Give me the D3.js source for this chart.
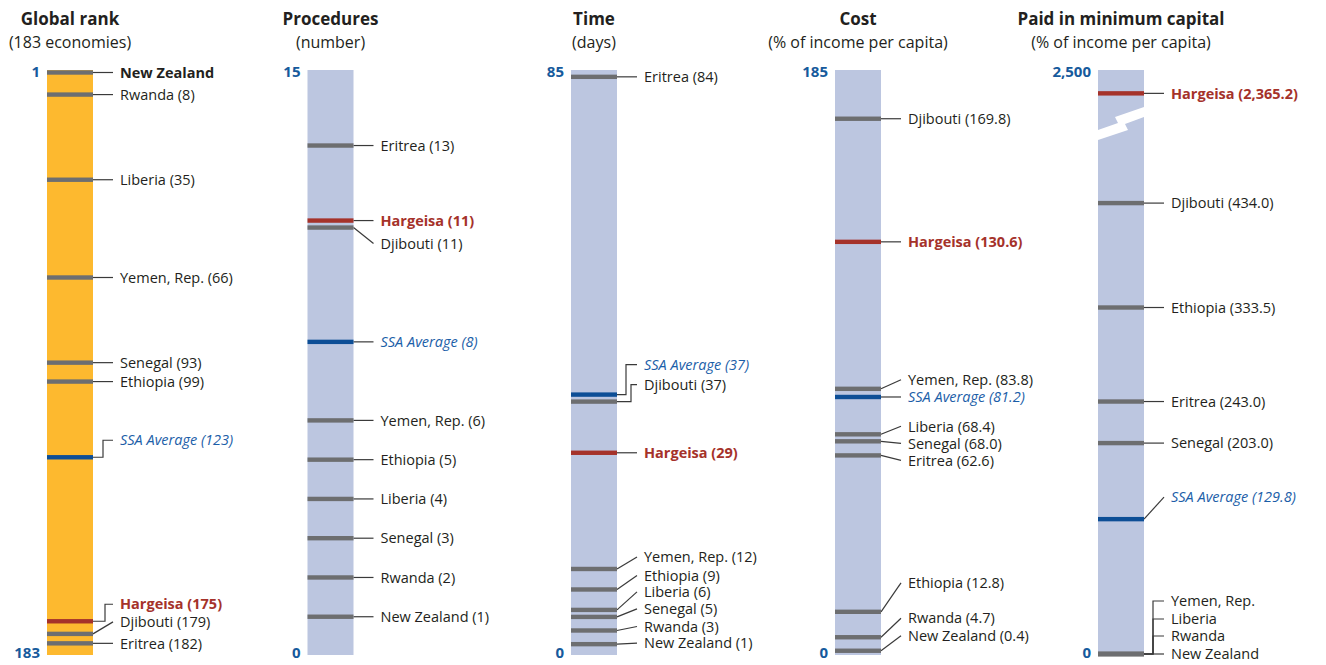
<!DOCTYPE html>
<html>
<head>
<meta charset="utf-8">
<script src="https://cdn.jsdelivr.net/npm/d3@7"></script>
<style>
body { margin: 0; background: #fff; }
text { font-family: "Open Sans", "Noto Sans", sans-serif; }
</style>
</head>
<body>
<div id="chart"></div>
<script>
// --- data ---
const rankNames = ["New Zealand", "Rwanda", "Liberia", "Yemen, Rep.", "Senegal", "Ethiopia", "SSA Average", "Hargeisa", "Djibouti", "Eritrea"];
const rankValues = [1, 8, 35, 66, 93, 99, 123, 175, 179, 182];

const procNames = ["Eritrea", "Hargeisa", "Djibouti", "SSA Average", "Yemen, Rep.", "Ethiopia", "Liberia", "Senegal", "Rwanda", "New Zealand"];
const procValues = [13, 11, 11, 8, 6, 5, 4, 3, 2, 1];

const timeNames = ["Eritrea", "SSA Average", "Djibouti", "Hargeisa", "Yemen, Rep.", "Ethiopia", "Liberia", "Senegal", "Rwanda", "New Zealand"];
const timeValues = [84, 37, 37, 29, 12, 9, 6, 5, 3, 1];

const costNames = ["Djibouti", "Hargeisa", "Yemen, Rep.", "SSA Average", "Liberia", "Senegal", "Eritrea", "Ethiopia", "Rwanda", "New Zealand"];
const costValues = [169.8, 130.6, 83.8, 81.2, 68.4, 68.0, 62.6, 12.8, 4.7, 0.4];

const capNames = ["Hargeisa", "Djibouti", "Ethiopia", "Eritrea", "Senegal", "SSA Average", "Yemen, Rep.", "Liberia", "Rwanda", "New Zealand"];
const capValues = [2365.2, 434.0, 333.5, 243.0, 203.0, 129.8, 0, 0, 0, 0];

const titles = ["Global rank", "Procedures", "Time", "Cost", "Paid in minimum capital"];
const subtitles = ["(183 economies)", "(number)", "(days)", "(% of income per capita)", "(% of income per capita)"];
const axisEnds = [[183, 1], [0, 15], [0, 85], [0, 185], [0, 2500]];

// --- label layout (pixel nudges of the label from its mark, elbow offsets) ---
const rankLabelDy = [0, 0, 0, 0, 0, 0, -17, -17, -12, 0];
const rankElbow = [0, 0, 0, 0, 0, 0, 10, 12, 0, 0];
const procLabelDy = [0, 0, 16, 0, 0, 0, 0, 0, 0, 0];
const procElbow = [0, 0, 0, 0, 0, 0, 0, 0, 0, 0];
const timeLabelDy = [0, -30, -17, 0, -12, -14, -18, -8, -4, -1];
const timeElbow = [0, 9, 14, 0, 0, 0, 0, 0, 0, 0];
const costLabelDy = [0, 0, -9, 0, -8, 2, 5, -29, -19, -15];
const costElbow = [0, 0, 0, 0, 0, 0, 0, 0, 0, 0];
const capLabelDy = [0, 0, 0, 0, 0, -22, -53, -35, -18, 0];
const capElbow = [0, 0, 0, 0, 0, 0, 9, 9, 9, 9];

const width = 1326, height = 665;
const barW = 46, barTop = 70, barBottom = 655;

const ORANGE = "#fdb92f", LILAC = "#bcc6e0";
const GREY = "#6d6e70", RED = "#a5322a", BLUE = "#0d4e96";
const TXT = "#231f20", BLUETXT = "#1b5ea8", AXISTXT = "#165a9c";

const fmt1 = d3.format(",.1f");

const panels = [
	{ names: rankNames, values: rankValues, dy: rankLabelDy, elbow: rankElbow, fill: ORANGE,
	  y: d3.scaleLinear().domain([1, 183]).range([72.5, 646.5]), base: null,
	  endFmt: d3.format("d"),
	  label: (n, v) => v === 1 ? n : n + " (" + v + ")" },
	{ names: procNames, values: procValues, dy: procLabelDy, elbow: procElbow, fill: LILAC,
	  y: d3.scaleLinear().domain([0, 15]).range([656, 67]), base: 0,
	  endFmt: d3.format("d"),
	  label: (n, v) => n + " (" + v + ")" },
	{ names: timeNames, values: timeValues, dy: timeLabelDy, elbow: timeElbow, fill: LILAC,
	  y: d3.scaleLinear().domain([0, 85]).range([651, 70]), base: 0,
	  endFmt: d3.format("d"),
	  label: (n, v) => n + " (" + v + ")" },
	{ names: costNames, values: costValues, dy: costLabelDy, elbow: costElbow, fill: LILAC,
	  y: d3.scaleLinear().domain([0, 185]).range([652, 71]), base: 0,
	  endFmt: d3.format("d"),
	  label: (n, v) => n + " (" + fmt1(v) + ")" },
	{ names: capNames, values: capValues, dy: capLabelDy, elbow: capElbow, fill: LILAC,
	  // broken axis: 480..2350 squeezed
	  y: d3.scaleLinear().domain([0, 480, 2350, 2500]).range([654, 155.3, 96, 70]), base: 0,
	  endFmt: d3.format(","), brk: true,
	  label: (n, v) => v === 0 ? n : n + " (" + fmt1(v) + ")" }
];

const svg = d3.select("#chart").append("svg")
	.attr("width", width)
	.attr("height", height);

const colX = d3.scaleOrdinal().domain(titles).range([70, 330.5, 594, 858, 1121]);

const markColor = n => n === "Hargeisa" ? RED : n === "SSA Average" ? BLUE : GREY;

panels.forEach((p, pi) => {
	const cx = colX(titles[pi]);
	const x0 = cx - barW / 2, x1 = cx + barW / 2;
	const g = svg.append("g");

	g.append("text")
		.attr("x", cx).attr("y", 25)
		.attr("text-anchor", "middle")
		.attr("font-weight", "bold")
		.attr("font-size", 17)
		.attr("fill", TXT)
		.text(titles[pi]);
	g.append("text")
		.attr("x", cx).attr("y", 48)
		.attr("text-anchor", "middle")
		.attr("font-size", 16)
		.attr("fill", TXT)
		.text(subtitles[pi]);

	g.append("rect")
		.attr("x", x0).attr("y", barTop)
		.attr("width", barW).attr("height", barBottom - barTop)
		.attr("fill", p.fill);

	if (p.brk) {
		const brk = [[0, 130], [20, 123], [17, 117], [46, 107], [46, 117], [27, 124], [30, 130], [0, 140]];
		g.append("path")
			.attr("d", "M" + brk.map(d => (x0 + d[0]) + "," + d[1]).join("L") + "Z")
			.attr("fill", "#fff");
	}

	// axis end labels
	const ends = axisEnds[pi];
	const endScale = d3.scaleLinear().domain(ends).range([653, 72]);
	g.append("g")
		.attr("transform", "translate(" + (x0 - 7) + ",0)")
		.call(d3.axisLeft(endScale).tickValues(ends).tickSize(0).tickPadding(0).tickFormat(p.endFmt))
		.call(a => a.select(".domain").remove())
		.selectAll("text")
		.attr("fill", AXISTXT)
		.attr("font-weight", "bold")
		.attr("font-size", 15)
		.attr("font-family", "\"Open Sans\", sans-serif");

	var items = p.names.map((n, i) => ({ name: n, v: p.values[i], y: p.y(p.values[i]), dy: p.dy[i], elbow: p.elbow[i] }));
	// pull apart marks that would sit on top of each other
	for (var i = 0; i < items.length - 1; i++) {
		var a = items[i], b = items[i + 1];
		if (b.v !== p.base && Math.abs(b.y - a.y) < 7) {
			var m = (a.y + b.y) / 2;
			a.y = m - 3.5; b.y = m + 3.5;
		}
	}

	const xEnd = x1 + 20, xLab = x1 + 27;

	g.selectAll("path.conn").data(items).enter()
		.append("path")
		.attr("class", "conn")
		.attr("fill", "none")
		.attr("stroke", "#3a3a3a")
		.attr("stroke-width", 1.2)
		.attr("d", d => {
			const ly = d.y + d.dy;
			if (d.elbow) return "M" + x1 + "," + d.y + "H" + (x1 + d.elbow) + "V" + ly + "H" + xEnd;
			return "M" + x1 + "," + d.y + "L" + xEnd + "," + ly;
		});

	g.selectAll("rect.mark").data(items).enter()
		.append("rect")
		.attr("class", "mark")
		.attr("x", x0).attr("y", d => d.y - 2.2)
		.attr("width", barW).attr("height", 4.4)
		.attr("fill", d => markColor(d.name));

	g.selectAll("text.lab").data(items).enter()
		.append("text")
		.attr("class", "lab")
		.attr("x", xLab)
		.attr("y", d => d.y + d.dy)
		.attr("dy", "0.36em")
		.attr("font-size", 14.5)
		.attr("font-weight", d => (d.name === "Hargeisa" || (pi === 0 && d.v === 1)) ? "bold" : null)
		.attr("font-style", d => d.name === "SSA Average" ? "italic" : null)
		.attr("fill", d => d.name === "Hargeisa" ? RED : d.name === "SSA Average" ? BLUETXT : TXT)
		.text(d => p.label(d.name, d.v));
});
</script>
</body>
</html>
